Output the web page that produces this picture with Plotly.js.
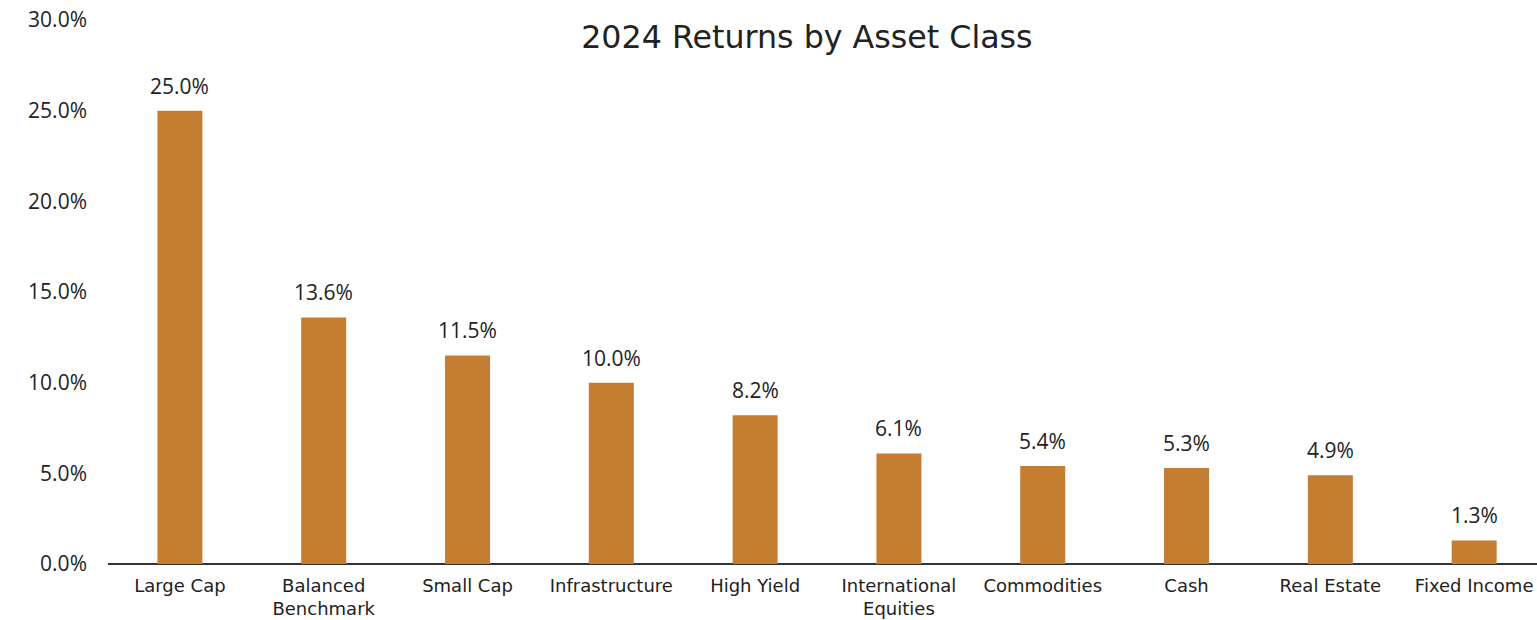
<!DOCTYPE html>
<html>
<head>
<meta charset="utf-8">
<script src="https://cdn.plot.ly/plotly-3.0.1.min.js"></script>
<style>
  html, body { margin: 0; padding: 0; background: #fff; }
  #chart { width: 1537px; height: 620px; }
</style>
</head>
<body>
<div id="chart"></div>
<script>
// asset classes and 2024 returns (fraction)
var categories = ['Large Cap', 'Balanced<br>Benchmark', 'Small Cap', 'Infrastructure', 'High Yield',
                  'International<br>Equities', 'Commodities', 'Cash', 'Real Estate', 'Fixed Income'];
var returns = [0.250, 0.136, 0.115, 0.100, 0.082, 0.061, 0.054, 0.053, 0.049, 0.013];
var yTicks = [0, 0.05, 0.10, 0.15, 0.20, 0.25, 0.30];

var numFont = '"Open Sans", sans-serif';
var wideFont = '"DejaVu Sans", sans-serif';

var trace1 = {
  x: categories,
  y: returns,
  type: 'bar',
  width: 0.313,
  marker: {color: '#C57D32'},
  hoverinfo: 'none'
};

// value labels above the bars
var labels = [];
for(var i = 0; i < categories.length; i++){
  labels.push({
    x: categories[i],
    y: returns[i],
    text: (returns[i] * 100).toFixed(1) + '%',
    showarrow: false,
    yanchor: 'bottom',
    yshift: 9,
    font: {family: numFont, size: 21, color: '#222'}
  });
}

var layout = {
  width: 1537,
  height: 620,
  margin: {l: 108, r: 0, t: 20, b: 56},
  paper_bgcolor: '#fff',
  plot_bgcolor: '#fff',
  showlegend: false,
  title: {
    text: '2024 Returns by Asset Class',
    font: {family: wideFont, size: 31.7, color: '#222'},
    x: 0.525, xanchor: 'center',
    y: 0.94, yanchor: 'middle'
  },
  xaxis: {
    type: 'category',
    range: [-0.5, 9.437],
    showgrid: false,
    showline: false,
    ticks: '',
    ticklabelstandoff: 9,
    tickfont: {family: wideFont, size: 18, color: '#222'},
    zeroline: false
  },
  yaxis: {
    range: [0, 0.30],
    tickvals: yTicks,
    tickformat: '.1%',
    showgrid: false,
    zeroline: true,
    zerolinecolor: '#333',
    zerolinewidth: 2,
    ticks: '',
    ticklabelstandoff: 20,
    tickfont: {family: numFont, size: 21, color: '#222'}
  },
  annotations: labels
};

Plotly.newPlot('chart', [trace1], layout, {staticPlot: true});
</script>
</body>
</html>
